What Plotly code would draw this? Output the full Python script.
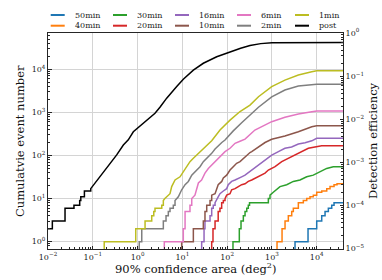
import math
import plotly.graph_objects as go

# ---------------- data ----------------
ZERO = 0.1  # cumulative count of zero (drawn below the axis floor)

series_names = ["50min", "40min", "30min", "20min", "16min",
                "10min", "6min", "2min", "1min", "post"]
series_colors = ["#1f77b4", "#ff7f0e", "#2ca02c", "#d62728", "#9467bd",
                 "#8c564b", "#e377c2", "#7f7f7f", "#bcbd22", "#000000"]

area_50min = [3280, 3280, 6400, 6400, 10000, 10000, 12940, 12940, 15350, 15350,
              18200, 18200, 21630, 21630, 24370, 24370, 40000]
count_50min = [ZERO, 1, 1, 2, 2, 3, 3, 4, 4, 5, 5, 6, 6, 7, 7, 8, 8]

area_40min = [1300, 1300, 1683, 1683, 1963, 1963, 2324, 2324, 2767, 2767, 3006, 3006,
              3889, 3889, 5027, 5027, 5985, 5985, 7093, 7093, 8395, 8395, 10000, 10000,
              12940, 12940, 16740, 16740, 19830, 19830, 24370, 24370, 28430, 28430, 40000]
count_40min = [ZERO, 1, 1, 2, 2, 3, 3, 4, 4, 5, 5, 6, 6, 8, 8, 9, 9, 10, 10, 11, 11,
               12, 12, 14, 14, 15, 15, 17, 17, 19, 19, 21, 21, 22, 22]

area_30min = [135, 135, 187, 187, 204, 204, 230, 230, 251, 251, 274, 274, 297, 297,
              316, 316, 832, 832, 906, 906, 1072, 1514, 2138, 3006, 4236, 5984, 8395,
              11860, 16710, 23440, 40000]
count_30min = [ZERO, 1, 1, 2, 2, 3, 3, 4, 4, 5, 5, 6, 6, 7, 7, 8, 8, 10, 10, 12, 14,
               19, 21, 25, 27, 32, 35, 42, 50, 55, 55]

area_20min = [45.2, 45.2, 48.3, 48.3, 53.7, 53.7, 63.1, 63.1, 69.2, 69.2, 75.5, 75.5,
              82.2, 82.2, 89.7, 89.7, 97.7, 116, 126, 150, 178, 211, 251, 297, 354, 497,
              702, 832, 1175, 1656, 2323, 3281, 4624, 6501, 9120, 12900, 40000]
count_20min = [ZERO, 1, 1, 2, 2, 3, 3, 5, 5, 6, 6, 8, 8, 9, 9, 10, 12, 13, 16, 17, 19,
               21, 22, 25, 27, 32, 39, 46, 55, 72, 86, 102, 123, 147, 158, 169, 169]

area_16min = [27, 27, 30.5, 30.5, 32, 32, 41.5, 41.5, 45.2, 45.2, 49, 49, 53.7, 53.7,
              63.1, 69.2, 82.2, 97.7, 106, 126, 150, 178, 211, 251, 354, 497, 702, 989,
              1396, 1950, 2750, 3890, 5500, 7760, 10000, 40000]
count_16min = [ZERO, 1, 1, 2, 2, 3, 3, 4, 4, 6, 6, 7, 7, 8, 11, 13, 15, 17, 21, 25, 27,
               30, 32, 35, 46, 60, 79, 102, 123, 147, 158, 185, 198, 219, 251, 251]

area_10min = [9.66, 9.66, 17.6, 17.6, 29.4, 29.4, 32, 32, 35, 35, 41.5, 41.5, 45.2, 45.2,
              53.7, 58.5, 63.1, 75.9, 82.2, 97.7, 116, 137, 163, 194, 230, 274, 324, 354,
              497, 702, 989, 1950, 3890, 7760, 10000, 40000]
count_10min = [ZERO, 1, 1, 2, 2, 3, 3, 5, 5, 7, 7, 9, 9, 12, 13, 16, 21, 25, 30, 35, 46,
               55, 66, 72, 86, 102, 117, 123, 158, 200, 238, 283, 355, 466, 490, 490]

area_6min = [3.95, 3.95, 10.5, 10.5, 11.5, 11.5, 14.8, 14.8, 16.2, 16.2, 19.1, 20.9, 22.8,
             26.9, 32, 38, 45.2, 53.7, 63.5, 75.9, 89.7, 116, 150, 194, 251, 417, 702, 989,
             1950, 3890, 7760, 10000, 40000]
count_6min = [ZERO, 1, 1, 2, 2, 5, 5, 7, 7, 10, 12, 16, 23, 27, 39, 50, 60, 72, 86, 102,
              123, 147, 192, 214, 240, 389, 509, 608, 769, 918, 1038, 1076, 1076]

area_2min = [1.09, 1.09, 1.24, 1.24, 3.76, 3.76, 4.32, 4.32, 4.86, 4.86, 5.3, 5.3, 6.28,
             6.28, 6.86, 6.86, 8.13, 9.66, 11.5, 13.6, 16.2, 20.9, 24.8, 29.4, 35, 45.2,
             53.7, 63.1, 75.9, 89.7, 137, 211, 251, 355, 501, 989, 1950, 3890, 7760, 10000,
             40000]
count_2min = [ZERO, 1, 1, 2, 2, 3, 3, 4, 4, 5, 5, 6, 6, 7, 7, 9, 11, 16, 21, 25, 35, 46,
              55, 72, 86, 112, 141, 170, 200, 229, 372, 575, 676, 955, 1318, 2291, 3311,
              4074, 4420, 4467, 4467]

area_1min = [0.18, 0.18, 0.91, 0.91, 1.47, 1.47, 2.07, 2.07, 2.3, 2.3, 2.45, 2.45, 3.47,
             3.47, 3.76, 3.76, 4.07, 5.3, 5.78, 6.86, 8.87, 10.5, 12.5, 14.8, 17.6, 22.8,
             29.4, 38, 45.2, 69.3, 116, 194, 324, 501, 989, 1950, 3890, 7760, 10000, 40000]
count_1min = [ZERO, 1, 1, 2, 2, 3, 3, 4, 4, 5, 5, 6, 6, 7, 7, 9, 10, 13, 19, 27, 32, 42,
              55, 72, 86, 112, 147, 192, 220, 389, 661, 1047, 1479, 2312, 3945, 5620, 7380,
              8790, 9270, 9270]

area_post = [0.008, 0.0125, 0.0125, 0.024, 0.024, 0.038, 0.038, 0.051, 0.051, 0.054,
             0.054, 0.065, 0.065, 0.09, 0.09, 0.112, 0.133, 0.172, 0.204, 0.263, 0.342,
             0.481, 0.621, 0.804, 1.0, 1.26, 1.78, 2.45, 3.16, 4.47, 7.48, 10.5, 17.6,
             29.4, 58.5, 116, 200, 324, 562, 1000, 2000, 40000]
count_post = [2, 2, 3, 3, 6, 6, 7, 7, 9, 9, 11, 11, 15, 15, 17, 23, 28, 39, 50, 72, 103,
              175, 230, 355, 431, 525, 716, 955, 1318, 2138, 3981, 5888, 9550, 13800,
              19500, 25700, 30900, 35500, 39400, 41400, 41700, 41700]

N_TOTAL = 69500  # number of events that corresponds to a detection efficiency of 1

x_tickvals = [1e-2, 1e-1, 1e0, 1e1, 1e2, 1e3, 1e4]
x_ticktext = ["10<sup>\u22122</sup>", "10<sup>\u22121</sup>", "10<sup>0</sup>",
              "10<sup>1</sup>", "10<sup>2</sup>", "10<sup>3</sup>", "10<sup>4</sup>"]
y_tickvals = [1e0, 1e1, 1e2, 1e3, 1e4]
y_ticktext = ["10<sup>0</sup>", "10<sup>1</sup>", "10<sup>2</sup>", "10<sup>3</sup>",
              "10<sup>4</sup>"]
y2_tickvals = [1e-5, 1e-4, 1e-3, 1e-2, 1e-1, 1e0]
y2_ticktext = ["10<sup>\u22125</sup>", "10<sup>\u22124</sup>", "10<sup>\u22123</sup>",
               "10<sup>\u22122</sup>", "10<sup>\u22121</sup>", "10<sup>0</sup>"]

x_title = "90% confidence area (deg<sup>2</sup>)"
y_title = "Cumulatvie event number"
y2_title = "Detection efficiency"

# ---------------- figure ----------------
areas = [area_50min, area_40min, area_30min, area_20min, area_16min,
         area_10min, area_6min, area_2min, area_1min, area_post]
counts = [count_50min, count_40min, count_30min, count_20min, count_16min,
          count_10min, count_6min, count_2min, count_1min, count_post]

FONT = "DejaVu Serif"
W, H = 382, 280
ML, MR, MT, MB = 48, 39, 33, 31
PW, PH = W - ML - MR, H - MT - MB
X_RANGE = [-2, 4.587]
Y_RANGE = [-0.17, 4.842]
Y2_RANGE = [Y_RANGE[0] - math.log10(N_TOTAL), Y_RANGE[1] - math.log10(N_TOTAL)]

fig = go.Figure()
for name, color, xs, ys in zip(series_names, series_colors, areas, counts):
    fig.add_trace(go.Scatter(x=xs, y=ys, mode="lines", name=name,
                             line=dict(color=color, width=1.5), showlegend=False))

axis_col = "#262626"
grid_col = "#d4d4d4"


def minor_vals(k0, k1):
    return [m * 10.0 ** k for k in range(k0, k1) for m in range(2, 10)]


common = dict(type="log", showline=True, linecolor=axis_col, linewidth=1,
              ticks="inside", ticklen=3.5, tickwidth=1, tickcolor=axis_col,
              tickfont=dict(family=FONT, size=8, color="#222222"), zeroline=False)

fig.update_layout(
    width=W, height=H,
    margin=dict(l=ML, r=MR, t=MT, b=MB, pad=0),
    paper_bgcolor="white", plot_bgcolor="white",
    font=dict(family=FONT, color="#222222"),
    xaxis=dict(range=X_RANGE, tickmode="array", tickvals=x_tickvals, ticktext=x_ticktext,
               mirror=True, showgrid=True, gridcolor=grid_col, gridwidth=1.2,
               minor=dict(tickmode="array", tickvals=minor_vals(-2, 5), ticks="inside",
                          ticklen=2, tickcolor=axis_col, showgrid=False),
               **common),
    yaxis=dict(range=Y_RANGE, tickmode="array", tickvals=y_tickvals, ticktext=y_ticktext,
               showgrid=True, gridcolor=grid_col, gridwidth=1.2,
               minor=dict(tickmode="array", tickvals=minor_vals(-1, 5), ticks="inside",
                          ticklen=2, tickcolor=axis_col, showgrid=False),
               **common),
    yaxis2=dict(range=Y2_RANGE, overlaying="y", side="right", anchor="x",
                tickmode="array", tickvals=y2_tickvals, ticktext=y2_ticktext,
                showgrid=False,
                minor=dict(tickmode="array", tickvals=minor_vals(-6, 0), ticks="inside",
                           ticklen=2, tickcolor=axis_col, showgrid=False),
                **common),
    showlegend=False,
)

# invisible trace so the efficiency axis is drawn
fig.add_trace(go.Scatter(x=area_post, y=[c / N_TOTAL for c in count_post], yaxis="y2",
                         mode="lines", line=dict(width=0), opacity=0, hoverinfo="skip",
                         showlegend=False))


def px_to_paper_x(px):
    return (px - ML) / PW


def px_to_paper_y(py):
    return (H - MB - py) / PH


# axis titles
ann = [
    dict(text=x_title, x=0.5, y=px_to_paper_y(268), xref="paper", yref="paper",
         showarrow=False, xanchor="center", yanchor="middle",
         font=dict(family=FONT, size=11.5, color="#111111")),
    dict(text=y_title, x=px_to_paper_x(20), y=0.5, xref="paper", yref="paper",
         showarrow=False, xanchor="center", yanchor="middle", textangle=-90,
         font=dict(family=FONT, size=11.5, color="#111111")),
    dict(text=y2_title, x=px_to_paper_x(373), y=0.5, xref="paper", yref="paper",
         showarrow=False, xanchor="center", yanchor="middle", textangle=-90,
         font=dict(family=FONT, size=11.5, color="#111111")),
]

# legend: 5 columns x 2 rows, filled column by column
col_text_px = [72.7, 135, 197, 259, 317]
row_px = [15, 25.7]
shapes = []
for i, (name, color) in enumerate(zip(series_names, series_colors)):
    c, r = divmod(i, 2)
    tx, ty = col_text_px[c], row_px[r]
    shapes.append(dict(type="line", xref="paper", yref="paper",
                       x0=px_to_paper_x(tx - 22), x1=px_to_paper_x(tx - 8),
                       y0=px_to_paper_y(ty), y1=px_to_paper_y(ty),
                       line=dict(color=color, width=2)))
    ann.append(dict(text=name, x=px_to_paper_x(tx), y=px_to_paper_y(ty),
                    xref="paper", yref="paper", showarrow=False,
                    xanchor="left", yanchor="middle",
                    font=dict(family=FONT, size=8, color="#222222")))

fig.update_layout(annotations=ann, shapes=shapes)
fig.write_html("out.html",
               config={"displayModeBar": False},
               post_script="document.body.style.margin='0';"
                           "document.body.style.padding='0';")
